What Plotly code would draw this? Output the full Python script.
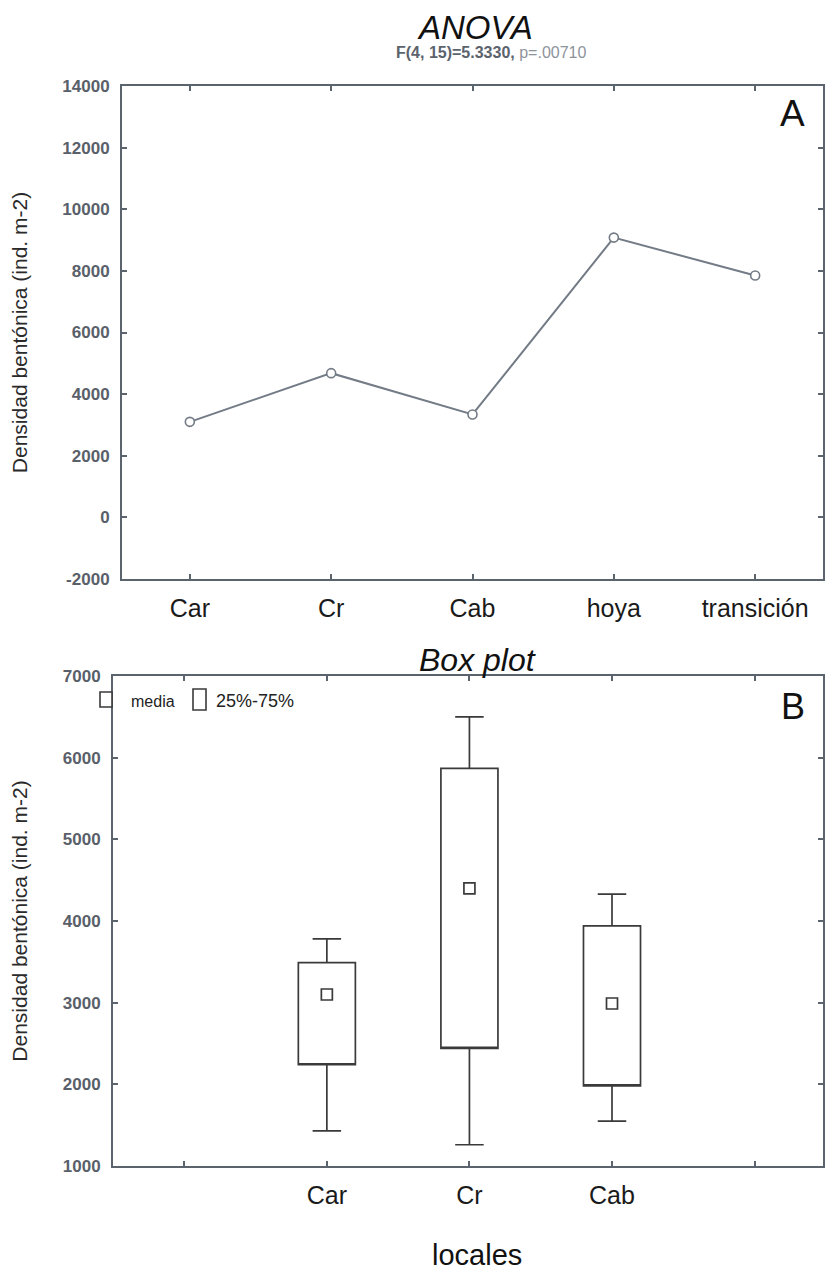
import plotly.graph_objects as go

# ---- data ----
locales_A = ["Car", "Cr", "Cab", "hoya", "transición"]
densidad_media_A = [3100, 4680, 3340, 9080, 7850]
ytick_vals_A = [14000, 12000, 10000, 8000, 6000, 4000, 2000, 0, -2000]
ytick_text_A = ["14000", "12000", "10000", "8000", "6000", "4000", "2000", "0", "-2000"]

slots_B = ["", "Car", "Cr", "Cab", ""]
locales_B = ["Car", "Cr", "Cab"]
media_B = [3100, 4400, 2990]
q1_B = [2240, 2440, 1980]
q3_B = [3490, 5870, 3940]
min_B = [1430, 1260, 1550]
max_B = [3780, 6500, 4330]
ytick_vals_B = [7000, 6000, 5000, 4000, 3000, 2000, 1000]
legend_labels_B = ["media", "25%-75%"]

SANS = "Liberation Sans, Arial, sans-serif"
AXC = "#5b636d"
TICKC = "#596069"
BOXC = "#3a3a3a"
W, H = 825, 1270


def px(x):
    return x / W


def py(y):
    return 1 - y / H


fig = go.Figure()

xA = list(range(len(locales_A)))
fig.add_trace(go.Scatter(
    x=xA, y=densidad_media_A, mode="lines+markers",
    line=dict(color="#737b86", width=2),
    marker=dict(symbol="circle", size=9, color="white",
                line=dict(color="#737b86", width=1.6)),
    xaxis="x", yaxis="y", showlegend=False, hoverinfo="x+y"))

xB = [slots_B.index(c) for c in locales_B]
fig.add_trace(go.Box(
    x=xB, q1=q1_B, median=q1_B, q3=q3_B,
    lowerfence=min_B, upperfence=max_B,
    width=0.4, whiskerwidth=0.5,
    fillcolor="white", line=dict(color=BOXC, width=1.7),
    name=legend_labels_B[1], xaxis="x2", yaxis="y2",
    showlegend=False, hoverinfo="skip"))
fig.add_trace(go.Scatter(
    x=xB, y=media_B, mode="markers", name=legend_labels_B[0],
    marker=dict(symbol="square", size=11, color="white",
                line=dict(color=BOXC, width=1.7)),
    xaxis="x2", yaxis="y2", showlegend=False))

common_x = dict(showline=True, linecolor=AXC, linewidth=2, mirror="ticks",
                ticks="inside", ticklen=5, tickcolor=AXC, tickwidth=1.5,
                showgrid=False, zeroline=False, ticklabelstandoff=6)
common_y = dict(showline=True, linecolor=AXC, linewidth=2, mirror="ticks",
                ticks="inside", ticklen=5, tickcolor=AXC, tickwidth=1.5,
                showgrid=False, zeroline=False,
                tickfont=dict(family=SANS, size=17, color=TICKC, weight="bold"),
                ticklabelstandoff=7)

ytitle_font = dict(family=SANS, size=21, color="#2a2a2a")

fig.update_layout(
    width=W, height=H,
    margin=dict(l=0, r=0, t=0, b=0, autoexpand=False),
    paper_bgcolor="white", plot_bgcolor="white",
    showlegend=False,
    xaxis=dict(domain=[px(122), px(823)], range=[-0.48, 4.48],
               tickvals=xA, ticktext=locales_A,
               tickfont=dict(family=SANS, size=25, color="#1a1a1a"),
               anchor="y", **common_x),
    yaxis=dict(domain=[py(579), py(86)], range=[-2000, 14000],
               tickvals=ytick_vals_A, ticktext=ytick_text_A,
               title=dict(text="Densidad bentónica (ind. m-2)", font=ytitle_font, standoff=29),
               anchor="x", **common_y),
    xaxis2=dict(domain=[px(113), px(823)], range=[-0.5, 4.48],
                tickvals=list(range(len(slots_B))), ticktext=slots_B,
                tickfont=dict(family=SANS, size=25, color="#1a1a1a"),
                anchor="y2", **common_x),
    yaxis2=dict(domain=[py(1166), py(676)], range=[1000, 7000],
                tickvals=ytick_vals_B,
                title=dict(text="Densidad bentónica (ind. m-2)", font=ytitle_font, standoff=29),
                anchor="x2", **common_y),
    shapes=[
        dict(type="rect", xref="paper", yref="paper",
             x0=px(100), x1=px(112), y0=py(707), y1=py(692),
             line=dict(color=BOXC, width=1.6), fillcolor="white", layer="above"),
        dict(type="rect", xref="paper", yref="paper",
             x0=px(193), x1=px(206), y0=py(710), y1=py(689),
             line=dict(color=BOXC, width=1.6), fillcolor="white", layer="above"),
    ],
    annotations=[
        dict(text="<i>ANOVA</i>", x=px(475), y=py(27), xref="paper", yref="paper",
             xanchor="center", yanchor="middle", showarrow=False,
             font=dict(family=SANS, size=33, color="#111")),
        dict(text="<b>F(4, 15)=5.3330,</b> <span style='color:#8d939b'>p=.00710</span>",
             x=px(491), y=py(53), xref="paper", yref="paper",
             xanchor="center", yanchor="middle", showarrow=False,
             font=dict(family=SANS, size=16, color="#5b636d")),
        dict(text="A", x=px(792), y=py(113), xref="paper", yref="paper",
             xanchor="center", yanchor="middle", showarrow=False,
             font=dict(family=SANS, size=37, color="#111")),
        dict(text="<i>Box plot</i>", x=px(478), y=py(660), xref="paper", yref="paper",
             xanchor="center", yanchor="middle", showarrow=False,
             font=dict(family=SANS, size=32, color="#111")),
        dict(text="B", x=px(793), y=py(706), xref="paper", yref="paper",
             xanchor="center", yanchor="middle", showarrow=False,
             font=dict(family=SANS, size=36, color="#111")),
        dict(text=legend_labels_B[0], x=px(129), y=py(701), xref="paper", yref="paper",
             xanchor="left", yanchor="middle", showarrow=False,
             font=dict(family=SANS, size=16, color="#222")),
        dict(text=legend_labels_B[1], x=px(214), y=py(701), xref="paper", yref="paper",
             xanchor="left", yanchor="middle", showarrow=False,
             font=dict(family=SANS, size=18, color="#222")),
        dict(text="locales", x=px(477), y=py(1255), xref="paper", yref="paper",
             xanchor="center", yanchor="middle", showarrow=False,
             font=dict(family=SANS, size=29, color="#111")),
    ],
)

fig.write_html("out.html", config={"displayModeBar": False},
               post_script="document.body.style.margin='0';document.body.style.overflow='hidden';")
